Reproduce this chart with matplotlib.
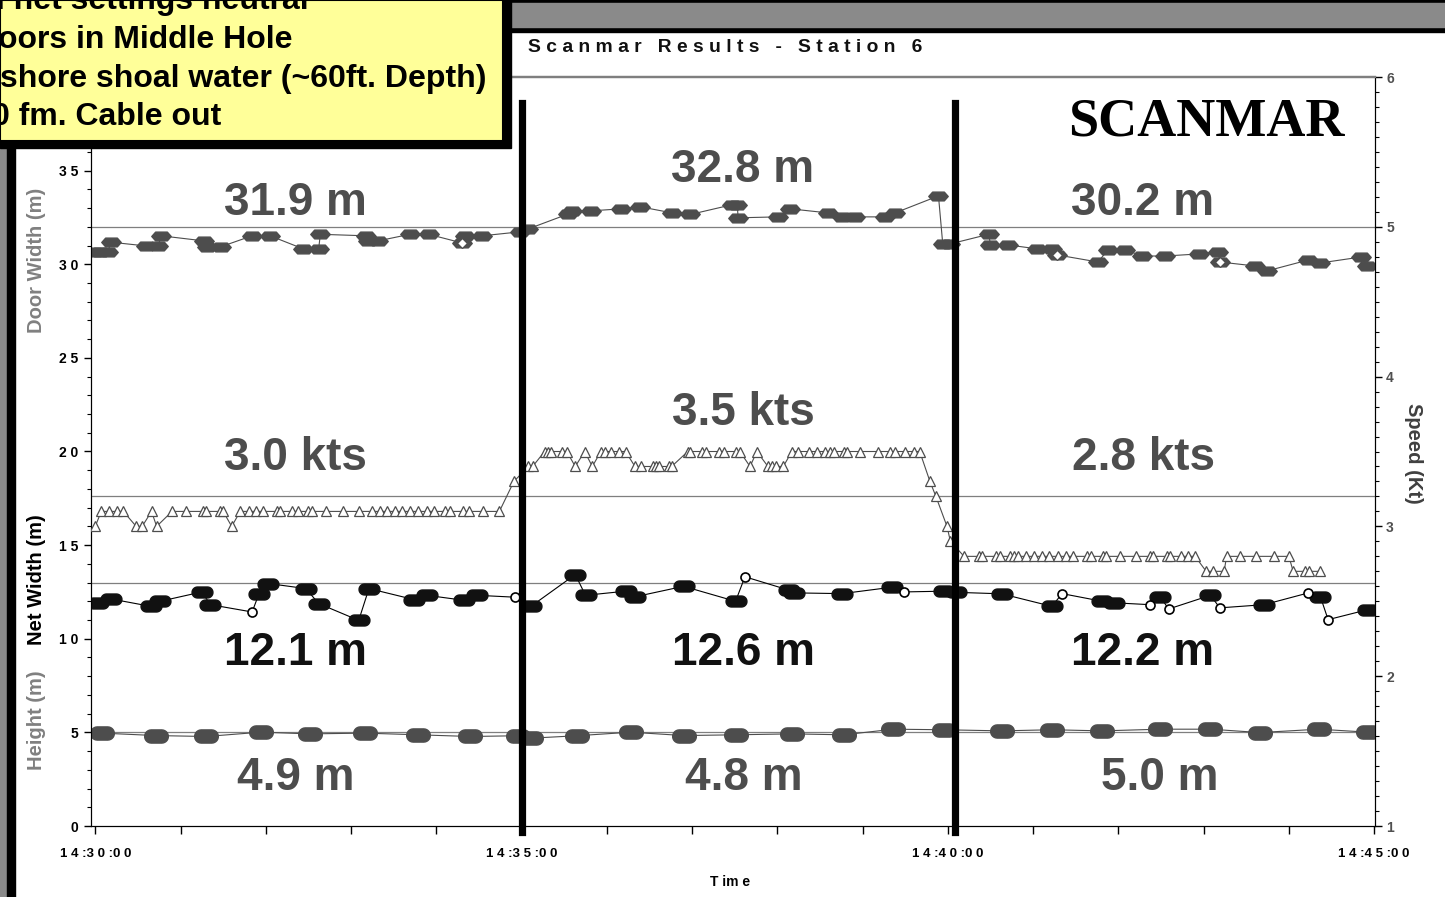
import numpy as np
import matplotlib
matplotlib.use('Agg')
import matplotlib.pyplot as plt
from matplotlib.path import Path
from matplotlib.patches import Rectangle
import matplotlib.ticker as mt

# ---------------- data (minutes after 14:30:00) ----------------
door_t = [0.00, 0.06, 0.15, 0.18, 0.59, 0.74, 0.77, 1.27, 1.31, 1.47, 1.84, 2.05, 2.44, 2.62, 2.64,
          3.17, 3.20, 3.32, 3.69, 3.91, 4.30, 4.34, 4.54, 4.98, 5.08, 5.55, 5.59, 5.81, 6.17, 6.39,
          6.77, 6.98, 7.47, 7.53, 7.54, 8.01, 8.15, 8.60, 8.76, 8.91, 9.26, 9.38, 9.89, 9.94, 10.03,
          10.48, 10.50, 10.71, 11.05, 11.22, 11.28, 11.76, 11.88, 12.08, 12.28, 12.55, 12.94, 13.17,
          13.19, 13.60, 13.74, 14.23, 14.37, 14.85, 14.92]
door_v = [30.66, 30.66, 30.66, 31.18, 30.98, 30.98, 31.52, 31.25, 30.93, 30.93, 31.52, 31.52, 30.82, 30.82, 31.60,
          31.52, 31.25, 31.25, 31.60, 31.60, 31.14, 31.52, 31.52, 31.73, 31.89, 32.69, 32.85, 32.85, 32.96, 33.07,
          32.74, 32.66, 33.18, 33.18, 32.48, 32.53, 32.96, 32.74, 32.53, 32.53, 32.53, 32.74, 33.65, 31.09, 31.09,
          31.60, 31.03, 31.03, 30.82, 30.82, 30.50, 30.12, 30.77, 30.77, 30.44, 30.44, 30.55, 30.66,
          30.12, 29.91, 29.64, 30.23, 30.07, 30.39, 29.91]
door_open = [20, 50, 58]

speed_t = [0.00, 0.07, 0.16, 0.25, 0.33, 0.48, 0.55, 0.66, 0.72, 0.90, 1.07, 1.26, 1.30, 1.46, 1.50, 1.60,
           1.70, 1.80, 1.89, 1.97, 2.13, 2.17, 2.31, 2.38, 2.50, 2.54, 2.71, 2.90, 3.09, 3.25, 3.34, 3.42,
           3.52, 3.60, 3.69, 3.79, 3.89, 3.97, 4.10, 4.16, 4.31, 4.38, 4.55, 4.74, 4.91,
           5.08, 5.13, 5.27, 5.31, 5.35, 5.47, 5.53, 5.63, 5.74, 5.83, 5.93, 5.98, 6.05, 6.14, 6.22, 6.33,
           6.40, 6.54, 6.58, 6.61, 6.73, 6.76, 6.95, 6.97, 7.12, 7.16, 7.32, 7.37, 7.51, 7.56, 7.68, 7.76,
           7.89, 7.94, 7.98, 8.07, 8.17, 8.24, 8.37, 8.46, 8.56, 8.62, 8.66, 8.78, 8.82, 8.97, 9.18, 9.32,
           9.38, 9.50, 9.60, 9.67, 9.79, 9.86, 9.99, 10.03,
           10.19, 10.37, 10.40, 10.57, 10.61, 10.73, 10.78, 10.82, 10.92, 11.01, 11.10, 11.19, 11.29, 11.39,
           11.47, 11.63, 11.68, 11.82, 11.86, 12.02, 12.21, 12.37, 12.41, 12.57, 12.61, 12.73, 12.82, 12.90,
           13.03, 13.11, 13.24, 13.27, 13.43, 13.62, 13.82, 14.00, 14.05, 14.19, 14.24, 14.37]
speed_v = [3.0, 3.1, 3.1, 3.1, 3.1, 3.0, 3.0, 3.1, 3.0, 3.1, 3.1, 3.1, 3.1, 3.1, 3.1, 3.0,
           3.1, 3.1, 3.1, 3.1, 3.1, 3.1, 3.1, 3.1, 3.1, 3.1, 3.1, 3.1, 3.1, 3.1, 3.1, 3.1,
           3.1, 3.1, 3.1, 3.1, 3.1, 3.1, 3.1, 3.1, 3.1, 3.1, 3.1, 3.1, 3.3,
           3.4, 3.4, 3.5, 3.5, 3.5, 3.5, 3.5, 3.4, 3.5, 3.4, 3.5, 3.5, 3.5, 3.5, 3.5, 3.4,
           3.4, 3.4, 3.4, 3.4, 3.4, 3.4, 3.5, 3.5, 3.5, 3.5, 3.5, 3.5, 3.5, 3.5, 3.4, 3.5,
           3.4, 3.4, 3.4, 3.4, 3.5, 3.5, 3.5, 3.5, 3.5, 3.5, 3.5, 3.5, 3.5, 3.5, 3.5, 3.5,
           3.5, 3.5, 3.5, 3.5, 3.3, 3.2, 3.0, 2.9,
           2.8, 2.8, 2.8, 2.8, 2.8, 2.8, 2.8, 2.8, 2.8, 2.8, 2.8, 2.8, 2.8, 2.8,
           2.8, 2.8, 2.8, 2.8, 2.8, 2.8, 2.8, 2.8, 2.8, 2.8, 2.8, 2.8, 2.8, 2.8,
           2.7, 2.7, 2.7, 2.8, 2.8, 2.8, 2.8, 2.8, 2.7, 2.7, 2.7, 2.7]

net_t = [0.03, 0.18, 0.65, 0.76, 1.25, 1.35, 1.84, 1.92, 2.03, 2.47, 2.62, 3.09, 3.21, 3.74, 3.89, 4.33,
         4.48, 4.92, 5.11, 5.63, 5.75, 6.22, 6.33, 6.90, 7.51, 7.62, 8.14, 8.19, 8.76, 9.34, 9.48, 9.95,
         10.09, 10.63, 11.22, 11.34, 11.81, 11.95, 12.37, 12.49, 12.59, 13.08, 13.19, 13.71, 14.23, 14.37,
         14.46, 14.93]
net_v = [11.92, 12.13, 11.73, 12.00, 12.50, 11.82, 11.43, 12.40, 12.95, 12.68, 11.88, 10.98, 12.68, 12.09, 12.32, 12.05,
         12.32, 12.22, 11.73, 13.43, 12.32, 12.54, 12.24, 12.80, 12.00, 13.31, 12.59, 12.45, 12.41, 12.75, 12.50, 12.54,
         12.48, 12.40, 11.73, 12.41, 12.00, 11.92, 11.82, 12.24, 11.59, 12.32, 11.65, 11.82, 12.45, 12.24,
         11.02, 11.56]
net_open = [6, 17, 25, 30, 35, 38, 40, 42, 44, 46]

height_t = [0.08, 0.71, 1.30, 1.94, 2.52, 3.16, 3.79, 4.40, 4.96, 5.11, 5.65, 6.28, 6.90, 7.51, 8.17, 8.78,
            9.36, 9.95, 10.63, 11.22, 11.81, 12.49, 13.08, 13.66, 14.35, 14.93]
height_v = [4.96, 4.83, 4.78, 5.01, 4.92, 4.96, 4.87, 4.78, 4.82, 4.69, 4.82, 5.01, 4.83, 4.87, 4.92, 4.87,
            5.17, 5.14, 5.08, 5.14, 5.08, 5.17, 5.17, 4.99, 5.17, 5.01]

ref_left = [32.0, 13.0, 5.0]
ref_speed = [3.2]
phase_breaks = [5.0, 10.08]

x_ticks = [0, 5, 10, 15]
x_labels = ['14:30:00', '14:35:00', '14:40:00', '14:45:00']
left_ticks = [0, 5, 10, 15, 20, 25, 30, 35]

summary_door = ['31.9 m', '32.8 m', '30.2 m']
summary_speed = ['3.0 kts', '3.5 kts', '2.8 kts']
summary_net = ['12.1 m', '12.6 m', '12.2 m']
summary_height = ['4.9 m', '4.8 m', '5.0 m']

note_lines = ['l net settings neutral', 'oors in Middle Hole',
              'shore shoal water (~60ft. Depth)', '0 fm. Cable out']

# ---------------- figure ----------------
W, H = 1445, 897
plt.rcParams['font.family'] = ['Liberation Sans', 'DejaVu Sans']
fig = plt.figure(figsize=(W / 100, H / 100), dpi=100)


def fx(x):
    return x / W


def fy(y):
    return 1 - y / H


def spaced(s):
    out = ''
    for i, c in enumerate(s):
        out += c
        if i < len(s) - 1 and c != ':' and c != ' ':
            out += ' '
    return out


def capsule(w, h, n=14):
    r = h / 2
    pts = []
    for a in np.linspace(-np.pi / 2, np.pi / 2, n):
        pts.append((w / 2 - r + r * np.cos(a), r * np.sin(a)))
    for a in np.linspace(np.pi / 2, 3 * np.pi / 2, n):
        pts.append((-w / 2 + r + r * np.cos(a), r * np.sin(a)))
    pts.append(pts[0])
    return Path(pts, closed=True)


hexm = Path([(-1, 0), (-0.6, 0.45), (0.6, 0.45), (1, 0), (0.6, -0.45), (-0.6, -0.45), (-1, 0)], closed=True)
netm = capsule(2.0, 1.05)
hgtm = capsule(1.8, 1.0)

L, R, T, B = 91, 1375, 77, 826
ax = fig.add_axes([fx(L), fy(B), fx(R - L), (B - T) / H])
ax2 = ax.twinx()

DG = '#4d4d4d'
ax.set_xlim(-0.05, 15.01)
ax.set_ylim(0, 40)
ax2.set_ylim(1, 6)

for v in ref_left:
    ax.axhline(v, color='#7f7f7f', lw=0.9, zorder=1)
for v in ref_speed:
    ax2.axhline(v, color='#7f7f7f', lw=0.9, zorder=1)

# door width
ax.plot(door_t, door_v, color=DG, lw=0.8, zorder=2)
ax.plot(door_t, door_v, ls='none', marker=hexm, ms=14, mfc=DG, mec=DG, zorder=3)
ax.plot([door_t[i] for i in door_open], [door_v[i] for i in door_open], ls='none', marker='D', ms=5,
        mfc='white', mec=DG, mew=0.9, zorder=4)
# net width
ax.plot(net_t, net_v, color='black', lw=0.8, zorder=2)
nf = [i for i in range(len(net_t)) if i not in net_open]
ax.plot([net_t[i] for i in nf], [net_v[i] for i in nf], ls='none', marker=netm, ms=15, mfc='#111111',
        mec='#111111', zorder=3)
ax.plot([net_t[i] for i in net_open], [net_v[i] for i in net_open], ls='none', marker='o', ms=6.5,
        mfc='white', mec='black', mew=1.2, zorder=4)
# height
ax.plot(height_t, height_v, color=DG, lw=0.8, zorder=2)
ax.plot(height_t, height_v, ls='none', marker=hgtm, ms=17, mfc=DG, mec=DG, zorder=3)
# speed
ax2.plot(speed_t, speed_v, color=DG, lw=0.8, zorder=2)
ax2.plot(speed_t, speed_v, ls='none', marker='^', ms=7.5, mfc='white', mec=DG, mew=0.9, zorder=3)

for xb in phase_breaks:
    ax2.axvline(xb, ymin=-0.008, ymax=0.965, color='black', lw=5.2, zorder=6, clip_on=False)

# axes styling
for a in (ax, ax2):
    a.spines['top'].set_color('#7f7f7f')
    a.spines['top'].set_linewidth(1.6)
    a.spines['left'].set_color('black')
    a.spines['right'].set_color('black')
    a.spines['bottom'].set_color('black')
ax.set_xticks(x_ticks)
ax.set_xticklabels([spaced(s) for s in x_labels], fontsize=9.5, fontweight='bold')
ax.xaxis.set_minor_locator(mt.MultipleLocator(1))
ax.tick_params(axis='x', which='both', length=6, width=1, pad=10)
ax.set_yticks(left_ticks)
ax.set_yticklabels([spaced(str(v)) for v in left_ticks], fontsize=10, fontweight='bold')
ax.yaxis.set_minor_locator(mt.MultipleLocator(1))
ax.tick_params(axis='y', which='major', length=5, width=1, pad=4)
ax.tick_params(axis='y', which='minor', length=3, width=0.8)
ax2.yaxis.set_major_locator(mt.MultipleLocator(1))
ax2.yaxis.set_minor_locator(mt.MultipleLocator(0.1))
ax2.yaxis.set_major_formatter(mt.FuncFormatter(lambda v, p: str(int(round(v)))))
ax2.tick_params(axis='y', which='major', length=5, width=1, labelsize=10, pad=3, labelcolor='#505050')
ax2.tick_params(axis='y', which='minor', length=3, width=0.8)
for t in ax2.get_yticklabels():
    t.set_fontweight('bold')

# ---------------- texts ----------------
fig.text(fx(730), fy(882), 'T im e', fontsize=10, fontweight='bold', ha='center', va='center')
fig.text(fx(528), fy(47), 'S c a n m a r   R e s u l t s   -   S t a t i o n   6', fontsize=13.9,
         fontweight='bold', ha='left', va='center', color='#111111')
fig.text(fx(37), fy(260), 'Door Width (m)', rotation=90, fontsize=14.5, fontweight='bold', color='#808080',
         ha='center', va='center')
fig.text(fx(37), fy(580), 'Net Width (m)', rotation=90, fontsize=14.5, fontweight='bold', color='black',
         ha='center', va='center')
fig.text(fx(37), fy(720), 'Height (m)', rotation=90, fontsize=14.5, fontweight='bold', color='#808080',
         ha='center', va='center')
fig.text(fx(1413), fy(453), 'Speed (Kt)', rotation=270, fontsize=14.5, fontweight='bold', color='#404040',
         ha='center', va='center')
fig.text(fx(1206), fy(122), 'SCANMAR', family='Liberation Serif', fontsize=39, fontweight='bold',
         color='black', ha='center', va='center')

cx = [295, 743, 1143]
big = dict(fontsize=33, fontweight='bold', ha='center', va='center')
door_y = [203, 170, 203]
for s, x, y in zip(summary_door, cx, door_y):
    fig.text(fx(x), fy(y), s, color=DG, **big)
speed_y = [458, 413, 458]
for s, x, y in zip(summary_speed, cx, speed_y):
    fig.text(fx(x), fy(y), s, color=DG, **big)
for s, x in zip(summary_net, cx):
    fig.text(fx(x), fy(653), s, color='#111111', **big)
hx = [296, 744, 1160]
for s, x in zip(summary_height, hx):
    fig.text(fx(x), fy(778), s, color=DG, **big)

# ---------------- slide decorations ----------------
fig.add_artist(Rectangle((0, fy(32)), 1, 32 / H, transform=fig.transFigure, color='black', zorder=1))
fig.add_artist(Rectangle((0, fy(27)), 1, 24 / H, transform=fig.transFigure, color='#8a8a8a', zorder=1.1))
fig.add_artist(Rectangle((0, 0), fx(7), fy(148), transform=fig.transFigure, color='#8a8a8a', zorder=1))
fig.add_artist(Rectangle((fx(7), 0), fx(8), fy(148), transform=fig.transFigure, color='black', zorder=1))
# note box with shadow
fig.add_artist(Rectangle((0, fy(148)), fx(511), 148 / H, transform=fig.transFigure, color='black', zorder=2))
fig.add_artist(Rectangle((0, fy(141)), fx(503), 141 / H, transform=fig.transFigure, facecolor='#FFFF99',
                         edgecolor='black', lw=1.5, zorder=2.1))
base = [9.5, 48, 86.5, 125]
xs = [-4, -2, 0, -8]
for s, b, x in zip(note_lines, base, xs):
    fig.text(fx(x), fy(b), s, fontsize=23, fontweight='bold', ha='left', va='baseline', color='black',
             zorder=3)

fig.savefig('out.png', dpi=100)
